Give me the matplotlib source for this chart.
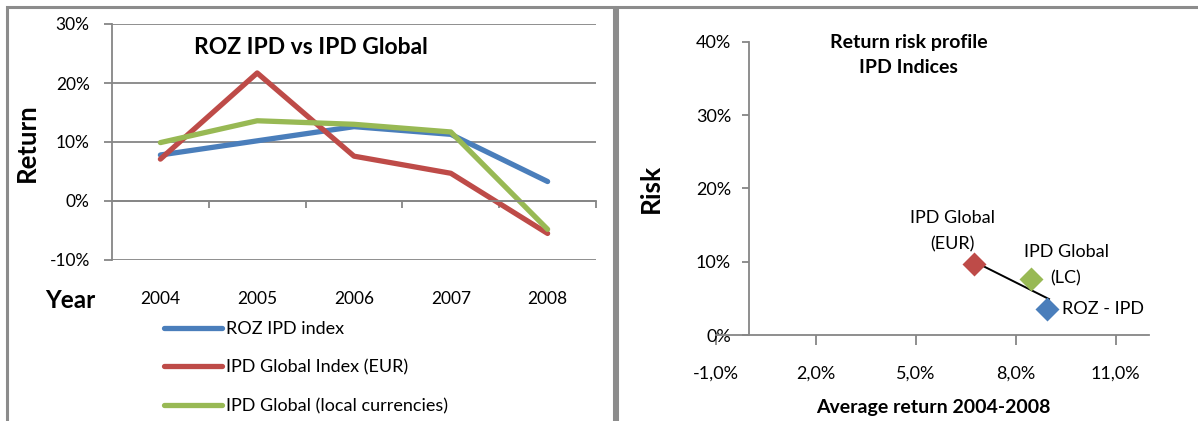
import matplotlib
matplotlib.use("Agg")
import matplotlib.pyplot as plt
from matplotlib.lines import Line2D
from matplotlib.ticker import FuncFormatter

# ========================================================================
# data

years = ["2004", "2005", "2006", "2007", "2008"]
roz_ipd = [7.8, 10.2, 12.6, 11.3, 3.3]
ipd_global_eur = [7.1, 21.7, 7.6, 4.7, -5.5]
ipd_global_lc = [9.9, 13.6, 13.0, 11.7, -4.8]
series_names = ["ROZ IPD index", "IPD Global Index (EUR)", "IPD Global (local currencies)"]

# return / risk profile (average return, risk) in %
profile_names = ["IPD Global\n(EUR)", "IPD Global\n(LC)", "ROZ - IPD"]
avg_return = [6.76, 8.46, 8.94]
risk = [9.7, 7.7, 3.6]
link_x = [6.76, 9.0]
link_y = [10.0, 4.9]

# ========================================================================
# styling

plt.rcParams['font.family'] = ['Lato', 'DejaVu Sans']
colors = ["#4A7EBB", "#BE4B48", "#98B954"]
gray = "#868686"
W, H = 1198, 421

fig = plt.figure(figsize=(W / 100, H / 100), dpi=100)

def fx(px):
	return px / W

def fy(py):
	return 1 - py / H

# panel frames (cut by the image edges)
for xs, ys in [([7, 7, 614, 614], [H + 5, 7, 7, H + 5]), ([617, 617, W + 5], [H + 5, 7, 7])]:
	fig.add_artist(Line2D([fx(v) for v in xs], [fy(v) for v in ys], color="#8c8c8c", lw=2.2,
		transform=fig.transFigure, solid_joinstyle='miter'))

pct = FuncFormatter(lambda v, p: "%d%%" % round(v))

# ------------------------------------------------------------------------
# left chart: returns per year

ax = fig.add_axes([fx(112), fy(260), fx(596 - 112), (260 - 24) / H])
xs = range(len(years))
data = [roz_ipd, ipd_global_eur, ipd_global_lc]
for i in range(len(data)):
	ax.plot(xs, data[i], color=colors[i], lw=3.8, label=series_names[i], solid_capstyle='round')

ax.set_xlim(-0.5, len(years) - 0.5)
ax.set_ylim(-10, 30)
ax.set_yticks([-10, 0, 10, 20, 30])
ax.yaxis.set_major_formatter(pct)
ax.grid(axis='y', color=gray, lw=1.3)
ax.set_axisbelow(True)
for s in ['top', 'right']:
	ax.spines[s].set_visible(False)
ax.spines['left'].set_color(gray)
ax.spines['left'].set_linewidth(1.3)
ax.spines['bottom'].set_position(('data', 0))
ax.spines['bottom'].set_color(gray)
ax.spines['bottom'].set_linewidth(1.3)
ax.set_xticks([i + 0.5 for i in xs])
ax.set_xticklabels([])
ax.tick_params(axis='x', direction='out', length=5, width=1.3, color=gray)
ax.tick_params(axis='y', direction='out', length=6, width=1.3, color=gray, labelsize=12.5, pad=10)
for i in xs:
	ax.text(i, -0.165, years[i], transform=ax.get_xaxis_transform(), ha='center', va='center', fontsize=12.5)

ax.text(0.411, 0.9, "ROZ IPD vs IPD Global", transform=ax.transAxes, ha='center', va='center',
	fontsize=16.5, fontweight='bold')
fig.text(fx(27), fy(143), "Return", rotation=90, ha='center', va='center', fontsize=18.5, fontweight='bold')
fig.text(fx(70), fy(300), "Year", ha='center', va='center', fontsize=17.5, fontweight='bold')

handles, labels = ax.get_legend_handles_labels()
fig.legend(handles, labels, loc='upper left', bbox_to_anchor=(fx(164), fy(321)), frameon=False,
	borderpad=0, borderaxespad=0, handlelength=3.2, handletextpad=0.25, labelspacing=1.25, fontsize=13)

# ------------------------------------------------------------------------
# right chart: return risk profile

bx = fig.add_axes([fx(715.7), fy(335), 433.3 / W, 293.3 / H])
bx.plot(link_x, link_y, color="black", lw=1.4, zorder=2)
for i in range(len(profile_names)):
	bx.plot(avg_return[i], risk[i], marker='D', ms=12.5, color=colors[[1, 2, 0][i]], mec='none', zorder=3)

bx.set_xlim(-1, 12)
bx.set_ylim(0, 40)
bx.set_xticks([-1, 2, 5, 8, 11])
bx.xaxis.set_major_formatter(FuncFormatter(lambda v, p: ("%.1f%%" % v).replace(".", ",")))
bx.set_yticks([0, 10, 20, 30, 40])
bx.yaxis.set_major_formatter(pct)
for s in ['top', 'right']:
	bx.spines[s].set_visible(False)
bx.spines['left'].set_position(('data', 0))
for s in ['left', 'bottom']:
	bx.spines[s].set_color(gray)
	bx.spines[s].set_linewidth(1.3)
bx.tick_params(axis='x', direction='out', length=7, width=1.3, color=gray, labelsize=13, pad=15)
bx.tick_params(axis='y', direction='out', length=5, width=1.3, color=gray, labelsize=13, pad=8)

bx.annotate(profile_names[0], (avg_return[0], risk[0]), xytext=(-22, 11), textcoords='offset pixels',
	ha='center', va='bottom', fontsize=13, linespacing=1.8)
bx.annotate(profile_names[1], (avg_return[1], risk[1]), xytext=(35, -8), textcoords='offset pixels',
	ha='center', va='bottom', fontsize=13, linespacing=1.8)
bx.annotate(profile_names[2], (avg_return[2], risk[2]), xytext=(15, 0), textcoords='offset pixels',
	ha='left', va='center', fontsize=13)

bx.text(0.445, 0.955, "Return risk profile\nIPD Indices", transform=bx.transAxes, ha='center', va='center',
	fontsize=14, fontweight='bold', linespacing=1.6)
fig.text(fx(651), fy(188), "Risk", rotation=90, ha='center', va='center', fontsize=19, fontweight='bold')
fig.text(fx(933), fy(407), "Average return 2004-2008", ha='center', va='center', fontsize=14, fontweight='bold')

fig.savefig("out.png", dpi=100)
